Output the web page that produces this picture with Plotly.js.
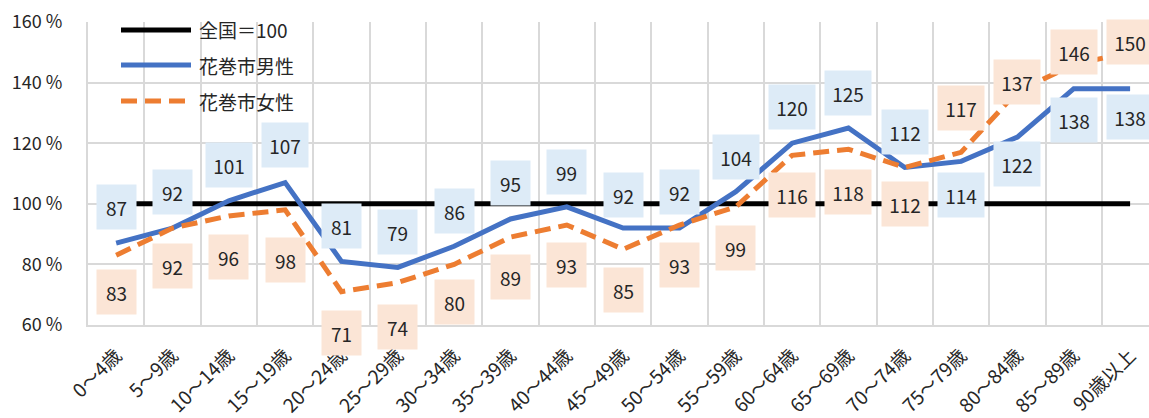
<!DOCTYPE html>
<html>
<head>
<meta charset="utf-8">
<script src="https://cdn.plot.ly/plotly-3.0.1.min.js"></script>
<style>
  html, body { margin: 0; padding: 0; background: #fff; }
  #plot { width: 1149px; height: 418px; }
</style>
</head>
<body>
<div id="plot"></div>
<script>
document.addEventListener("DOMContentLoaded", function(event) {

  const categories = [
    '0～4歳', '5～9歳', '10～14歳', '15～19歳', '20～24歳',
    '25～29歳', '30～34歳', '35～39歳', '40～44歳', '45～49歳',
    '50～54歳', '55～59歳', '60～64歳', '65～69歳', '70～74歳',
    '75～79歳', '80～84歳', '85～89歳', '90歳以上'
  ];

  const nationalValues = [
    100, 100, 100, 100, 100, 100, 100, 100, 100, 100,
    100, 100, 100, 100, 100, 100, 100, 100, 100
  ];

  const maleValues = [
    87, 92, 101, 107, 81, 79, 86, 95, 99, 92,
    92, 104, 120, 125, 112, 114, 122, 138, 138
  ];

  const femaleValues = [
    83, 92, 96, 98, 71, 74, 80, 89, 93, 85,
    93, 99, 116, 118, 112, 117, 137, 146, 150
  ];

  // where each data label sits relative to its point (px, up is positive)
  const maleLabelShift = [36, 36, 36, 38, 35, 35, 35, 36, 35, 33, 36, 35, 36, 35, 35, -34, -27, -31, -28];
  const femaleLabelShift = [-37, -38, -41, -50, -41, -44, -38, -40, -40, -41, -40, -41, -40, -43, -37, 44, 10, 12, 10];

  const W = 1149, H = 418;
  const M = { l: 88, r: 0, t: 22, b: 93 };
  const plotW = W - M.l - M.r;
  const plotH = H - M.t - M.b;
  const px = x => (x - M.l) / plotW;
  const py = y => (H - M.b - y) / plotH;

  const font = '"Noto Sans CJK JP", "Noto Sans", sans-serif';
  const grid = '#d9d9d9';

  const national = {
    x: categories,
    y: nationalValues,
    name: '全国＝100',
    type: 'scatter',
    mode: 'lines',
    line: { color: '#000000', width: 5 },
    hoverinfo: 'skip'
  };

  const male = {
    x: categories,
    y: maleValues,
    name: '花巻市男性',
    type: 'scatter',
    mode: 'lines',
    line: { color: '#4472C4', width: 5 }
  };

  const female = {
    x: categories,
    y: femaleValues,
    name: '花巻市女性',
    type: 'scatter',
    mode: 'lines',
    line: { color: '#ED7D31', width: 5, dash: '16px,8px' }
  };

  const data = [national, male, female];

  const annotations = [];
  const shapes = [];

  //data labels
  const addLabels = (values, shifts, bg) => {
    values.forEach(function(v, i) {
      const txt = String(v);
      annotations.push({
        x: categories[i],
        y: v,
        xref: 'x',
        yref: 'y',
        text: txt,
        showarrow: false,
        yshift: shifts[i],
        bgcolor: bg,
        borderpad: 0,
        width: txt.length > 2 ? 46 : 39,
        height: 44,
        font: { family: font, size: 19, color: '#262626' }
      });
    });
  };
  addLabels(maleValues, maleLabelShift, '#DDEBF7');
  addLabels(femaleValues, femaleLabelShift, '#FBE5D6');

  //legend drawn by hand so the line samples are long
  shapes.push({
    type: 'rect', xref: 'paper', yref: 'paper',
    x0: px(93), x1: px(312), y0: py(118), y1: py(10),
    fillcolor: '#ffffff', line: { width: 0 }, layer: 'between'
  });
  const rows = [30, 65, 101];
  data.forEach(function(trace, i) {
    shapes.push({
      type: 'line', xref: 'paper', yref: 'paper',
      x0: px(121), x1: px(191), y0: py(rows[i]), y1: py(rows[i]),
      line: { color: trace.line.color, width: 5, dash: trace.line.dash || 'solid' },
      layer: 'above'
    });
    annotations.push({
      xref: 'paper', yref: 'paper',
      x: px(197), y: py(rows[i]),
      xanchor: 'left', yanchor: 'middle',
      text: trace.name,
      showarrow: false,
      font: { family: font, size: 19, color: '#262626' }
    });
  });

  const layout = {
    width: W,
    height: H,
    margin: M,
    paper_bgcolor: '#ffffff',
    plot_bgcolor: '#ffffff',
    showlegend: false,
    font: { family: font, color: '#262626' },
    xaxis: {
      type: 'category',
      range: [-0.5, (plotW / 56.33) - 0.5],
      tickson: 'boundaries',
      showgrid: true,
      gridcolor: grid,
      gridwidth: 2,
      showline: true,
      linecolor: grid,
      linewidth: 2,
      ticks: '',
      tickangle: -45,
      ticklabelstandoff: 10,
      tickfont: { family: font, size: 19, color: '#262626' },
      fixedrange: true
    },
    yaxis: {
      range: [60, 160],
      dtick: 20,
      ticksuffix: ' %',
      showgrid: true,
      gridcolor: grid,
      gridwidth: 2,
      showline: true,
      linecolor: grid,
      linewidth: 2,
      zeroline: false,
      ticks: '',
      ticklabelstandoff: 20,
      tickfont: { family: font, size: 18, color: '#262626' },
      fixedrange: true
    },
    shapes: shapes,
    annotations: annotations
  };

  Plotly.newPlot('plot', data, layout, { displayModeBar: false, staticPlot: true });

});
</script>
</body>
</html>
